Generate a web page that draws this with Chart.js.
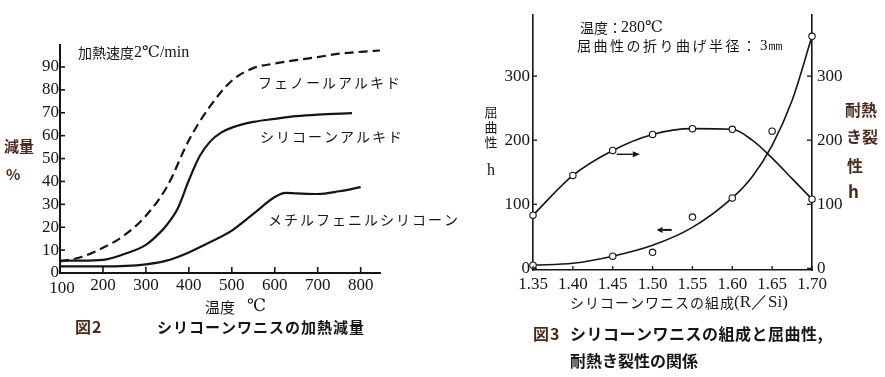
<!DOCTYPE html>
<html lang="ja">
<head>
<meta charset="utf-8">
<script src="https://cdn.jsdelivr.net/npm/chart.js@4.4.0/dist/chart.umd.min.js"></script>
<style>
  html, body { margin: 0; padding: 0; background: #fff; }
  body { width: 885px; height: 377px; position: relative; overflow: hidden; }
  canvas { position: absolute; top: 0; }
  #fig2 { left: 0; }
  #fig3 { left: 440px; }
</style>
</head>
<body>
<canvas id="fig2" width="470" height="377"></canvas>
<canvas id="fig3" width="445" height="377"></canvas>
<script>
// 図2 シリコーンワニスの加熱減量 (温度 ℃ / 減量 %)
const phenolTemp = [100, 150, 200, 250, 300, 350, 400, 450, 500, 550, 600, 650, 700, 750, 800, 845];
const phenolLoss = [5, 7, 11, 16.5, 25, 38, 58, 73, 84, 89.5, 91.5, 93, 94.3, 95.8, 96.6, 97.2];
const alkydTemp = [100, 150, 200, 250, 300, 325, 350, 375, 400, 425, 450, 475, 500, 550, 600, 650, 700, 780];
const alkydLoss = [5.4, 5.4, 5.7, 8.3, 12.3, 16.2, 21.3, 28.5, 40.5, 51, 57.5, 61.3, 63.5, 66, 67.3, 68.5, 69.2, 69.8];
const methylTemp = [100, 200, 300, 350, 400, 450, 500, 550, 600, 625, 650, 700, 750, 800];
const methylLoss = [2.9, 2.9, 3.8, 5.5, 9, 13.5, 18.5, 25.8, 33.2, 35, 34.8, 34.5, 35.7, 37.5];
const tempTicks = [100, 200, 300, 400, 500, 600, 700, 800];
const lossTicks = [0, 10, 20, 30, 40, 50, 60, 70, 80, 90];

// 図3 組成(R/Si)と屈曲性・耐熱き裂性 (h)
const ratioTicks = [1.35, 1.40, 1.45, 1.50, 1.55, 1.60, 1.65, 1.70];
const hourTicks = [0, 100, 200, 300];
const flexRatio = [1.35, 1.45, 1.50, 1.55, 1.60, 1.65, 1.70];
const flexHours = [5, 19, 25, 80, 110, 214, 362];
const flexCurveRatio = [1.35, 1.40, 1.45, 1.50, 1.55, 1.60, 1.625, 1.65, 1.675, 1.70];
const flexCurveHours = [5, 8, 19, 36, 64, 110, 143, 192, 262, 362];
const crackRatio = [1.35, 1.40, 1.45, 1.50, 1.55, 1.60, 1.70];
const crackHours = [83, 145, 184, 209, 218, 217, 108];
const crackCurveRatio = [1.35, 1.40, 1.45, 1.50, 1.55, 1.60, 1.625, 1.65, 1.675, 1.70];
const crackCurveHours = [83, 145, 184, 209, 218, 217, 200, 172, 140, 108];

const ink = "#151515";
const brown = "#4b2a1e";
const serif = '"Liberation Serif", "DejaVu Serif", serif';
const jp = '"Noto Sans CJK JP", sans-serif';

const xy = (xs, ys) => xs.map((x, i) => ({ x, y: ys[i] }));

// texto libre (coordenadas de página)
function notesPlugin(notes, offsetX) {
  return {
    id: "notes",
    afterDraw(chart) {
      const ctx = chart.ctx;
      ctx.save();
      ctx.textBaseline = "middle";
      notes.forEach(n => {
        ctx.font = n.font;
        ctx.fillStyle = n.color || ink;
        ctx.textAlign = n.align || "left";
        ctx.letterSpacing = (n.ls || 0) + "px";
        ctx.fillText(n.text, n.x - offsetX, n.y);
      });
      ctx.restore();
    }
  };
}

// marcas de eje hacia dentro
function inTicksPlugin(list, width) {
  return {
    id: "inTicks",
    afterDraw(chart) {
      const { ctx, chartArea: a } = chart;
      ctx.save();
      ctx.strokeStyle = ink;
      ctx.lineWidth = width;
      list.forEach(([id, len]) => {
        const s = chart.scales[id];
        s.ticks.forEach(t => {
          const p = s.getPixelForValue(t.value);
          ctx.beginPath();
          if (s.isHorizontal()) { ctx.moveTo(p, a.bottom); ctx.lineTo(p, a.bottom - len); }
          else if (s.position === "right") { ctx.moveTo(a.right, p); ctx.lineTo(a.right - len, p); }
          else { ctx.moveTo(a.left, p); ctx.lineTo(a.left + len, p); }
          ctx.stroke();
        });
      });
      ctx.restore();
    }
  };
}

// ---------- 図2 ----------
const fig2Notes = [
  { text: "加熱速度", x: 78, y: 53, font: "14px " + jp },
  { text: "2℃/min", x: 134, y: 53, font: "16px " + serif },
  { text: "フェノールアルキド", x: 258, y: 83, font: "14px " + jp, ls: 2 },
  { text: "シリコーンアルキド", x: 260, y: 137, font: "14px " + jp, ls: 2 },
  { text: "メチルフェニルシリコーン", x: 268, y: 220, font: "14px " + jp, ls: 2 },
  { text: "減量", x: 4, y: 146, font: "bold 15px " + jp, color: brown },
  { text: "%", x: 6, y: 174, font: "bold 15px " + jp, color: brown },
  { text: "温度", x: 205, y: 307, font: "15px " + jp },
  { text: "℃", x: 247, y: 307, font: "17px " + serif },
  { text: "図2", x: 75, y: 327, font: "bold 16px " + jp, color: brown, ls: 1 },
  { text: "シリコーンワニスの加熱減量", x: 157, y: 327, font: "bold 15px " + jp, ls: 1 }
];

const firstTickLow = {
  id: "firstTickLow",
  afterDraw(chart) {
    const s = chart.scales.x;
    const ctx = chart.ctx;
    ctx.save();
    ctx.font = "17px " + serif;
    ctx.fillStyle = ink;
    ctx.textAlign = "center";
    ctx.textBaseline = "middle";
    ctx.fillText(String(tempTicks[0]), s.getPixelForValue(tempTicks[0]) + 2, s.top + 16);
    ctx.restore();
  }
};

new Chart(document.getElementById("fig2"), {
  type: "line",
  data: {
    datasets: [
      {
        label: "フェノールアルキド",
        data: xy(phenolTemp, phenolLoss),
        borderColor: ink, borderWidth: 2.2, borderDash: [9, 5],
        pointRadius: 0, cubicInterpolationMode: "monotone", fill: false
      },
      {
        label: "シリコーンアルキド",
        data: xy(alkydTemp, alkydLoss),
        borderColor: ink, borderWidth: 2.2,
        pointRadius: 0, cubicInterpolationMode: "monotone", fill: false
      },
      {
        label: "メチルフェニルシリコーン",
        data: xy(methylTemp, methylLoss),
        borderColor: ink, borderWidth: 2.2,
        pointRadius: 0, cubicInterpolationMode: "monotone", fill: false
      }
    ]
  },
  options: {
    responsive: false,
    animation: false,
    layout: { padding: { left: 0, right: 90, top: 45, bottom: 74 } },
    plugins: { legend: { display: false }, tooltip: { enabled: false } },
    scales: {
      x: {
        type: "linear", min: 100, max: 845,
        afterBuildTicks: s => { s.ticks = tempTicks.map(value => ({ value })); },
        afterFit: s => { s.height = 30; },
        ticks: {
          color: ink, padding: 2, maxRotation: 0, autoSkip: false,
          font: { family: serif, size: 17 },
          callback: v => (v === tempTicks[0] ? "" : v)
        },
        grid: { display: true, drawOnChartArea: false, drawTicks: false },
        border: { display: true, color: ink, width: 2 }
      },
      y: {
        min: 0, max: 99.6,
        afterBuildTicks: s => { s.ticks = lossTicks.map(value => ({ value })); },
        afterFit: s => { s.width = 60; },
        ticks: { color: ink, padding: 1, autoSkip: false, font: { family: serif, size: 17 } },
        grid: { display: true, drawOnChartArea: false, drawTicks: false },
        border: { display: true, color: ink, width: 2 }
      }
    }
  },
  plugins: [inTicksPlugin([["x", 6], ["y", 5]], 1.6), notesPlugin(fig2Notes, 0), firstTickLow]
});

// ---------- 図3 ----------
const fig3Notes = [
  { text: "温度：", x: 580, y: 28, font: "14px " + jp },
  { text: "280℃", x: 621, y: 28, font: "16px " + serif },
  { text: "屈曲性の折り曲げ半径：", x: 577, y: 46, font: "14px " + jp, ls: 2.5 },
  { text: "3㎜", x: 760, y: 46, font: "15px " + serif },
  { text: "屈", x: 491, y: 112, font: "13px " + jp, align: "center" },
  { text: "曲", x: 491, y: 127, font: "13px " + jp, align: "center" },
  { text: "性", x: 491, y: 142, font: "13px " + jp, align: "center" },
  { text: "h", x: 491, y: 171, font: "16px " + serif, align: "center" },
  { text: "耐熱", x: 845, y: 110, font: "bold 16px " + jp, color: brown },
  { text: "き裂", x: 846, y: 137, font: "bold 16px " + jp, color: brown },
  { text: "性", x: 847, y: 166, font: "bold 16px " + jp, color: brown },
  { text: "h", x: 848, y: 192, font: "bold 17px " + jp, color: brown },
  { text: "シリコーンワニスの組成", x: 570, y: 303, font: "14px " + jp, ls: 1 },
  { text: "(R／Si)", x: 734, y: 303, font: "17px " + serif },
  { text: "図3", x: 533, y: 334, font: "bold 16px " + jp, color: brown, ls: 1 },
  { text: "シリコーンワニスの組成と屈曲性,", x: 570, y: 334, font: "bold 16px " + jp, ls: 0.5 },
  { text: "耐熱き裂性の関係", x: 570, y: 361, font: "bold 16px " + jp }
];

// flechas indicando el eje de cada curva
const arrows = {
  id: "arrows",
  afterDraw(chart) {
    const { ctx, scales } = chart;
    const draw = (x0, x1, y, yScale, head, w) => {
      const a = scales.x.getPixelForValue(x0);
      const b = scales.x.getPixelForValue(x1);
      const py = scales[yScale].getPixelForValue(y);
      const dir = Math.sign(b - a);
      ctx.save();
      ctx.strokeStyle = ink;
      ctx.fillStyle = ink;
      ctx.lineWidth = w;
      ctx.beginPath();
      ctx.moveTo(a, py);
      ctx.lineTo(b - dir * head, py);
      ctx.stroke();
      ctx.beginPath();
      ctx.moveTo(b, py);
      ctx.lineTo(b - dir * head, py - 3);
      ctx.lineTo(b - dir * head, py + 3);
      ctx.closePath();
      ctx.fill();
      ctx.restore();
    };
    draw(1.455, 1.484, 178, "y2", 7, 1.4);
    draw(1.524, 1.505, 60, "y", 6, 2);
  }
};

const pointStyle = {
  showLine: false, pointRadius: 3.2, pointBorderWidth: 1.1,
  pointBackgroundColor: "#fff", pointBorderColor: ink
};

new Chart(document.getElementById("fig3"), {
  type: "line",
  data: {
    datasets: [
      Object.assign({ label: "屈曲性", data: xy(flexRatio, flexHours), yAxisID: "y" }, pointStyle),
      Object.assign({ label: "耐熱き裂性", data: xy(crackRatio, crackHours), yAxisID: "y2" }, pointStyle),
      {
        label: "屈曲性 曲線", data: xy(flexCurveRatio, flexCurveHours), yAxisID: "y",
        borderColor: ink, borderWidth: 1.6, pointRadius: 0, cubicInterpolationMode: "monotone", fill: false
      },
      {
        label: "耐熱き裂性 曲線", data: xy(crackCurveRatio, crackCurveHours), yAxisID: "y2",
        borderColor: ink, borderWidth: 1.6, pointRadius: 0, cubicInterpolationMode: "monotone", fill: false
      }
    ]
  },
  options: {
    responsive: false,
    animation: false,
    clip: false,
    layout: { padding: { left: 0, right: 0, top: 10, bottom: 77 } },
    plugins: { legend: { display: false }, tooltip: { enabled: false } },
    scales: {
      x: {
        type: "linear", min: 1.35, max: 1.70,
        afterBuildTicks: s => { s.ticks = ratioTicks.map(value => ({ value })); },
        afterFit: s => { s.height = 30; },
        ticks: {
          color: ink, padding: 4, maxRotation: 0, autoSkip: false,
          font: { family: serif, size: 17 },
          callback: v => Number(v).toFixed(2)
        },
        grid: { display: true, drawOnChartArea: false, drawTicks: false },
        border: { display: true, color: ink, width: 1.6 }
      },
      y: {
        position: "left", min: -2.5, max: 395,
        afterBuildTicks: s => { s.ticks = hourTicks.map(value => ({ value })); },
        afterFit: s => { s.width = 93; },
        ticks: { color: ink, padding: 3, autoSkip: false, font: { family: serif, size: 17 } },
        grid: { display: true, drawOnChartArea: false, drawTicks: false },
        border: { display: true, color: ink, width: 1.6 }
      },
      y2: {
        position: "right", min: -2.5, max: 395,
        afterBuildTicks: s => { s.ticks = hourTicks.map(value => ({ value })); },
        afterFit: s => { s.width = 73; },
        ticks: { color: ink, padding: 5, autoSkip: false, font: { family: serif, size: 17 } },
        grid: { display: true, drawOnChartArea: false, drawTicks: false },
        border: { display: true, color: ink, width: 1.6 }
      }
    }
  },
  plugins: [inTicksPlugin([["x", 4], ["y", 4], ["y2", 5]], 1.3), arrows, notesPlugin(fig3Notes, 440)]
});
</script>
</body>
</html>
